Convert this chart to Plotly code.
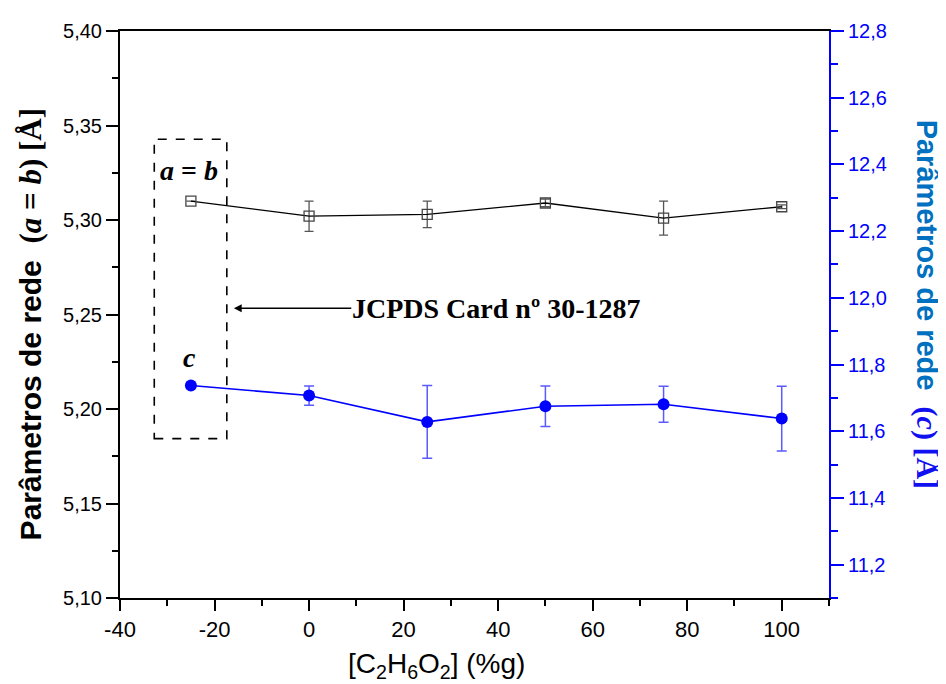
import plotly.graph_objects as go

# ---- data ----
conc = [-25, 0, 25, 50, 75, 100]
a_b = [5.310, 5.302, 5.303, 5.309, 5.301, 5.307]
a_b_err = [0, 0.008, 0.007, 0.002, 0.009, 0.001]
c_param = [11.737, 11.707, 11.628, 11.675, 11.681, 11.638]
c_err = [0, 0.029, 0.109, 0.061, 0.054, 0.097]

x_ticks = [-40, -20, 0, 20, 40, 60, 80, 100]
x_tick_labels = ["-40", "-20", "0", "20", "40", "60", "80", "100"]

SANS = "Liberation Sans, Arial, sans-serif"
SERIF = "Liberation Serif, Times New Roman, serif"
BLUE = "#0000FF"

# page body has an 8px margin; plot area target: x 120..829, y 24..598
OFF = 8
L, T = 120 - OFF, 24 - OFF
R, B = 946 - 829 + OFF, 684 - 598 + OFF
PW, PH = 709, 574


def px(x):
    return (x - 120) / PW


def py(y):
    return (598 - y) / PH


fig = go.Figure()

fig.add_trace(go.Scatter(
    x=conc, y=a_b, mode="lines+markers",
    line=dict(color="black", width=1.3),
    marker=dict(symbol="square-open", size=10, color="#444444", line=dict(width=1.3)),
    error_y=dict(type="data", array=a_b_err, visible=True, color="#555555",
                 thickness=1.3, width=4.5),
    showlegend=False, yaxis="y"))

fig.add_trace(go.Scatter(
    x=conc, y=c_param, mode="lines+markers",
    line=dict(color=BLUE, width=1.6),
    marker=dict(symbol="circle", size=12, color=BLUE),
    error_y=dict(type="data", array=c_err, visible=True, color="#5A5AFF",
                 thickness=1.5, width=5),
    showlegend=False, yaxis="y2"))

fig.add_shape(type="rect", xref="x", yref="y",
              x0=-32.75, x1=-17.4, y0=5.1843, y1=5.3427,
              line=dict(color="black", width=1.6, dash="dash"))

annotations = [
    dict(x=-15.9, y=5.2533, xref="x", yref="y",
         ax=39.5, ay=5.2533, axref="x", ayref="y",
         text="<b>JCPDS Card nº 30-1287</b>", showarrow=True,
         arrowhead=2, arrowsize=1.2, arrowwidth=1.3, arrowcolor="black",
         standoff=0, borderpad=0,
         font=dict(family=SERIF, size=28, color="black")),
    dict(x=-25.4, y=5.326, xref="x", yref="y", showarrow=False,
         xanchor="center", yanchor="middle",
         text="<b><i>a</i> = <i>b</i></b>",
         font=dict(family=SERIF, size=28, color="black")),
    dict(x=-25.3, y=5.2272, xref="x", yref="y", showarrow=False,
         xanchor="center", yanchor="middle",
         text="<b><i>c</i></b>",
         font=dict(family=SERIF, size=28, color="black")),
    dict(x=px(30), y=py(321), xref="paper", yref="paper",
         showarrow=False, textangle=-90, xanchor="center", yanchor="middle",
         text="<b>Parâmetros de rede</b>\u00a0\u00a0<span style='font-family:Liberation Serif, serif; font-size:31px'><b>(<i>a</i> = <i>b</i>) [Å]</b></span>",
         font=dict(family=SANS, size=30, color="black")),
    dict(x=px(927), y=py(300), xref="paper", yref="paper",
         showarrow=False, textangle=90, xanchor="center", yanchor="middle",
         borderpad=0,
         text="<b>Parâmetros de rede</b>\u00a0\u00a0<span style='font-family:Liberation Serif, serif; font-size:30px; fill:#1010F0'><b>(<i>c</i>) [Å]</b></span>",
         font=dict(family=SANS, size=29, color="#0070C0")),
    dict(x=px(436), y=py(666), xref="paper", yref="paper",
         showarrow=False, xanchor="center", yanchor="middle",
         text="[C<sub>2</sub>H<sub>6</sub>O<sub>2</sub>] (%g)",
         font=dict(family=SANS, size=28, color="black")),
]

fig.update_layout(
    width=946, height=684,
    margin=dict(l=L, r=R, t=T, b=B),
    paper_bgcolor="white", plot_bgcolor="white",
    separators=", ",
    annotations=annotations,
    xaxis=dict(range=[-40, 110], tickvals=x_ticks, ticktext=x_tick_labels,
               ticks="outside", ticklen=11,
               tickwidth=1.8, tickcolor="black", showline=True, linewidth=2,
               linecolor="black", mirror=True, showgrid=False, zeroline=False,
               tickfont=dict(family=SANS, size=22, color="black"),
               minor=dict(dtick=10, tick0=0, ticks="outside", ticklen=6,
                          tickwidth=1.8, tickcolor="black", showgrid=False)),
    yaxis=dict(range=[5.10, 5.40], dtick=0.05, tick0=5.10, tickformat=".2f",
               ticks="outside", ticklen=12, tickwidth=1.8, tickcolor="black",
               showline=True, linewidth=2, linecolor="black",
               showgrid=False, zeroline=False,
               tickfont=dict(family=SANS, size=20, color="black"),
               minor=dict(dtick=0.025, tick0=5.10, ticks="outside", ticklen=6,
                          tickwidth=1.8, tickcolor="black", showgrid=False)),
    yaxis2=dict(range=[11.1, 12.8], dtick=0.2, tick0=11.2, tickformat=".1f",
                overlaying="y", side="right", anchor="x",
                ticks="outside", ticklen=13, tickwidth=1.8, tickcolor=BLUE,
                showline=True, linewidth=2, linecolor=BLUE,
                showgrid=False, zeroline=False,
                tickfont=dict(family=SANS, size=20, color=BLUE),
                minor=dict(dtick=0.1, tick0=11.1, ticks="outside", ticklen=7,
                           tickwidth=1.8, tickcolor=BLUE, showgrid=False)),
)

fig.write_html("out.html")
